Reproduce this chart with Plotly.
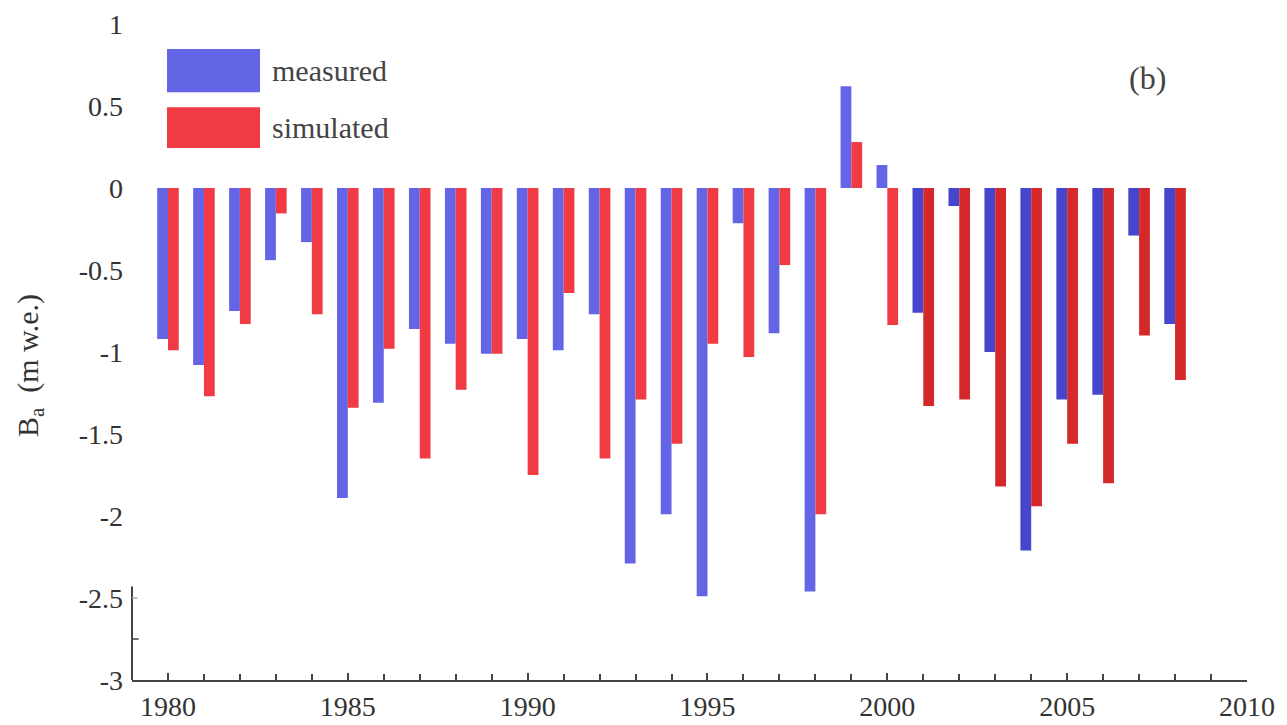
import plotly.graph_objects as go

years = list(range(1980, 2009))
measured = [-0.92, -1.08, -0.75, -0.44, -0.33, -1.89, -1.31, -0.86, -0.95, -1.01,
            -0.92, -0.99, -0.77, -2.29, -1.99, -2.49, -0.215, -0.886, -2.46, 0.62,
            0.14, -0.76, -0.11, -1.00, -2.21, -1.29, -1.26, -0.29, -0.83]
simulated = [-0.99, -1.27, -0.83, -0.155, -0.77, -1.34, -0.98, -1.65, -1.23, -1.01,
             -1.75, -0.64, -1.65, -1.29, -1.56, -0.95, -1.03, -0.47, -1.99, 0.28,
             -0.835, -1.33, -1.29, -1.82, -1.94, -1.56, -1.80, -0.90, -1.17]
series_names = ["measured", "simulated"]
y_tickvals = [1, 0.5, 0, -0.5, -1, -1.5, -2, -2.5, -3]
y_ticktext = ["1", "0.5", "0", "-0.5", "-1", "-1.5", "-2", "-2.5", "-3"]
x_tickvals = [1980, 1985, 1990, 1995, 2000, 2005, 2010]

blue_light, blue_dark = "#6464e6", "#4646cc"
red_light, red_dark = "#f03a44", "#d4282a"
blue_cols = [blue_light if y <= 2000 else blue_dark for y in years]
red_cols = [red_light if y <= 2000 else red_dark for y in years]

FONT = "Liberation Serif"
TXT = "#333333"

fig = go.Figure()
fig.add_trace(go.Bar(x=years, y=measured, name=series_names[0],
                     marker=dict(color=blue_cols, line=dict(width=0)), showlegend=False))
fig.add_trace(go.Bar(x=years, y=simulated, name=series_names[1],
                     marker=dict(color=red_cols, line=dict(width=0)), showlegend=False))

fig.update_layout(
    width=1287, height=725,
    margin=dict(l=132, r=40, t=24, b=45),
    paper_bgcolor="white", plot_bgcolor="white",
    barmode="group", bargap=0.40, bargroupgap=0.0,
    font=dict(family=FONT, size=28, color=TXT),
)
fig.update_xaxes(
    range=[1979, 2010], tickvals=x_tickvals, ticktext=[str(v) for v in x_tickvals],
    ticks="inside", ticklen=7, tickcolor="#444", tickwidth=1.5,
    minor=dict(dtick=1, tick0=1980, ticks="inside", ticklen=6, tickcolor="#444", tickwidth=1.5),
    showline=True, linecolor="#444", linewidth=2, showgrid=False, zeroline=False,
    ticklabelstandoff=0, automargin=False,
    tickfont=dict(family=FONT, size=28, color=TXT),
)
fig.update_yaxes(
    range=[-3, 1], tickvals=y_tickvals, ticktext=y_ticktext,
    ticks="", showline=False, showgrid=False, zeroline=False,
    ticklabelstandoff=8, automargin=False,
    tickfont=dict(family=FONT, size=28, color=TXT),
)

shapes = [
    # partial left axis line near the bottom
    dict(type="line", xref="paper", yref="y", x0=0, x1=0, y0=-2.43, y1=-3,
         line=dict(color="#444", width=2)),
    dict(type="line", xref="paper", yref="y", x0=0, x1=0.006, y0=-2.75, y1=-2.75,
         line=dict(color="#444", width=1.5)),
    dict(type="line", xref="paper", yref="y", x0=0, x1=0.005, y0=-2.5, y1=-2.5,
         line=dict(color="#aaa", width=1.5)),
    # legend swatches
    dict(type="rect", xref="paper", yref="paper", x0=0.0314, x1=0.1148, y0=0.896, y1=0.962,
         fillcolor=blue_light, line=dict(width=0)),
    dict(type="rect", xref="paper", yref="paper", x0=0.0314, x1=0.1148, y0=0.811, y1=0.873,
         fillcolor=red_light, line=dict(width=0)),
]
annotations = [
    dict(text=series_names[0], xref="paper", yref="paper", x=0.124, y=0.929,
         xanchor="left", yanchor="middle", showarrow=False,
         font=dict(family=FONT, size=30, color="#444")),
    dict(text=series_names[1], xref="paper", yref="paper", x=0.124, y=0.842,
         xanchor="left", yanchor="middle", showarrow=False,
         font=dict(family=FONT, size=30, color="#444")),
    dict(text="(b)", xref="paper", yref="paper", x=0.911, y=0.917,
         xanchor="center", yanchor="middle", showarrow=False,
         font=dict(family=FONT, size=32, color="#444")),
    dict(text="B<sub>a</sub>  (m w.e.)", xref="paper", yref="paper", x=-0.0915, y=0.48,
         xanchor="center", yanchor="middle", textangle=-90, showarrow=False,
         font=dict(family=FONT, size=30, color=TXT)),
]
fig.update_layout(shapes=shapes, annotations=annotations)

fig.write_html("out.html")
